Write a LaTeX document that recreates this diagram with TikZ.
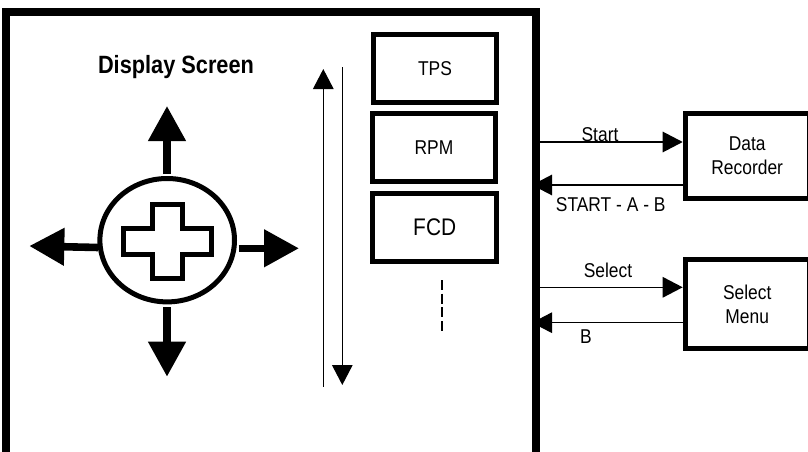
\documentclass[tikz,border=0pt]{standalone}
\usepackage{fontspec}
\usepackage{xcolor}
\usepackage{tikz}
\usetikzlibrary{arrows.meta,shapes.geometric}
\setmainfont{Liberation Sans}[FakeStretch=0.87]
\tikzset{
  labelbox/.style={draw=black, line width=5pt, minimum width=123.6pt, minimum height=68pt, inner sep=0pt, font=\fontsize{20}{24}\selectfont, align=center},
  sidebox/.style={labelbox, minimum width=124pt},
  textlabel/.style={inner sep=0pt, font=\fontsize{20}{24}\selectfont},
  thinarrow/.style={line width=1.3pt, draw=black, -{Triangle[length=20pt,width=20.5pt]}},
  bigarrow/.style={line width=7.6pt, draw=black, -{Triangle[length=35pt,width=36pt]}}
}
\begin{document}
\begin{tikzpicture}[x=1pt, y=-1pt]
\useasboundingbox (0,0) rectangle (808,452);
\coordinate (frameBL) at (6,452);
\coordinate (frameTL) at (6,12);
\coordinate (frameTR) at (536,12);
\coordinate (frameBR) at (536,452);
\draw [line width=7.6pt, miter limit=10] (frameBL) -- (frameTL) -- (frameTR) -- (frameBR);

\node [inner sep=0pt, font=\fontsize{25}{24}\bfseries] (title) at (176,67.5) {Display Screen};

\node [draw=black, line width=5pt, ellipse, minimum width=134.6pt, minimum height=123.4pt, inner sep=0pt] (pad) at (167.2,240.2) {};
\draw [line width=5pt, line join=miter] (152.3,204) -- (182,204) -- (182,228.3) -- (211,228.3) -- (211,254.3) -- (182,254.3) -- (182,278.3) -- (152.3,278.3) -- (152.3,254.3) -- (123,254.3) -- (123,228.3) -- (152.3,228.3) -- cycle;

\coordinate (upTip) at (167,106);
\coordinate (downTip) at (167,376.7);
\coordinate (leftTip) at (29.3,246);
\coordinate (rightTip) at (299,248.3);
\draw [bigarrow, shorten <=2pt] (pad.north -| upTip) -- (upTip);
\draw [bigarrow, shorten <=3pt] (pad.south -| downTip) -- (downTip);
\draw [bigarrow] (pad.186) -- (leftTip);
\draw [bigarrow, shorten <=2pt] (pad.354 |- rightTip) -- (rightTip);

\coordinate (scrollUpStart) at (323.3,386.7);
\coordinate (scrollUpTip) at (323.3,69);
\coordinate (scrollDownStart) at (342.3,67.3);
\coordinate (scrollDownTip) at (342.3,385);
\draw [thinarrow] (scrollUpStart) -- (scrollUpTip);
\draw [thinarrow] (scrollDownStart) -- (scrollDownTip);

\node [labelbox] (tps) at (435,68.5) {TPS};
\node [labelbox] (rpm) at (434,147.5) {RPM};
\node [labelbox, font=\fontsize{24}{24}\selectfont] (fcd) at (434.7,227.7) {FCD};
\coordinate (moreTop) at (441.7,280);
\coordinate (moreBottom) at (441.7,331);
\draw [line width=1.6pt, dash pattern=on 9.8pt off 3.9pt] (moreTop) -- (moreBottom);

\node [sidebox, minimum height=85.3pt] (recorder) at (747.2,155.9) {Data\\Recorder};
\node [sidebox, minimum height=89.3pt] (menu) at (747.2,303.9) {Select\\Menu};

\coordinate (startOut) at (540,142);
\coordinate (startIn) at (532,185);
\coordinate (selectOut) at (540,287.3);
\coordinate (selectIn) at (532,322.7);
\draw [thinarrow] (startOut) -- (startOut -| recorder.west);
\draw [thinarrow] (startIn -| recorder.west) -- (startIn);
\draw [thinarrow] (selectOut) -- (selectOut -| menu.west);
\draw [thinarrow] (selectIn -| menu.west) -- (selectIn);

\node [textlabel] (startText) at (600,135) {Start};
\node [textlabel] (startabText) at (610.7,204.3) {START - A - B};
\node [textlabel] (selectText) at (608,270.7) {Select};
\node [textlabel] (bText) at (586,337) {B};
\end{tikzpicture}
\end{document}
